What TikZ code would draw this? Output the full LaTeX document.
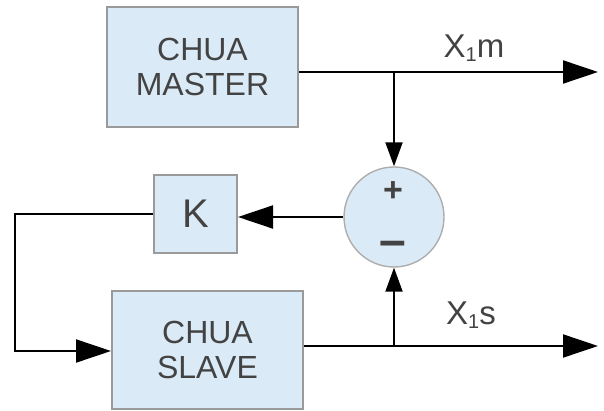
\documentclass[tikz,border=0pt]{standalone}
\usepackage{fontspec}
\setmainfont{Liberation Sans}
\usetikzlibrary{arrows.meta}
\definecolor{boxfill}{HTML}{DAEAF6}
\definecolor{boxline}{HTML}{9A9A9A}
\definecolor{txt}{HTML}{434343}
\begin{document}
\begin{tikzpicture}[x=1pt,y=-1pt,
  blockbox/.style={draw=boxline,line width=2pt,fill=boxfill,text=txt,align=center,
    font=\fontsize{32}{35}\selectfont,inner sep=0pt},
  sumcirc/.style={circle,draw=boxline!80,line width=1.4pt,fill=boxfill,inner sep=0pt,minimum size=100pt},
  conn/.style={line width=2pt,black},
  bigtip/.style={-{Triangle[length=35pt,width=23pt]}},
  smalltip/.style={-{Triangle[length=24pt,width=17pt]}},
  lbl/.style={text=txt,font=\fontsize{33}{36}\selectfont,inner sep=0pt}
]
\useasboundingbox (0,0) rectangle (604,411);
\node[blockbox,minimum width=191pt,minimum height=120pt] (master) at (202.5,67) {CHUA\\MASTER};
\node[blockbox,minimum width=191pt,minimum height=118pt] (slave) at (207.5,350) {CHUA\\SLAVE};
\node[blockbox,minimum width=83pt,minimum height=78pt,font=\fontsize{40}{40}\selectfont] (k) at (195.5,214) {K};
\node[sumcirc] (sum) at (394,217) {};
\node[text=txt,font=\bfseries\fontsize{34}{34}\selectfont,inner sep=0pt] (plus) at (393,192) {+};
\node[text=txt,font=\bfseries\fontsize{48}{48}\selectfont,inner sep=0pt] (minus) at (393,249) {–};
\coordinate (mout) at (598,72);
\coordinate (sout) at (598,346);
\coordinate (mbr) at (394,72);
\coordinate (sbr) at (394,346);
\coordinate (fb1) at (15,214);
\coordinate (fb2) at (15,351);
\draw[conn,bigtip] (master.east |- mout) -- (mout);
\draw[conn,bigtip] (slave.east |- sout) -- (sout);
\draw[conn,smalltip] (mbr) -- (sum.north);
\draw[conn,smalltip] (sbr) -- (sum.south);
\draw[conn,bigtip] (sum.west) -- (k.east |- sum.west);
\draw[conn,bigtip,line join=miter] (k.west) -- (fb1) -- (fb2) -- (slave.west |- fb2);
\node[lbl] (xm) at (474,48) {X\raisebox{-0.12em}{\fontsize{20}{20}\selectfont 1}m};
\node[lbl] (xs) at (471,315) {X\raisebox{-0.12em}{\fontsize{20}{20}\selectfont 1}s};
\end{tikzpicture}
\end{document}
